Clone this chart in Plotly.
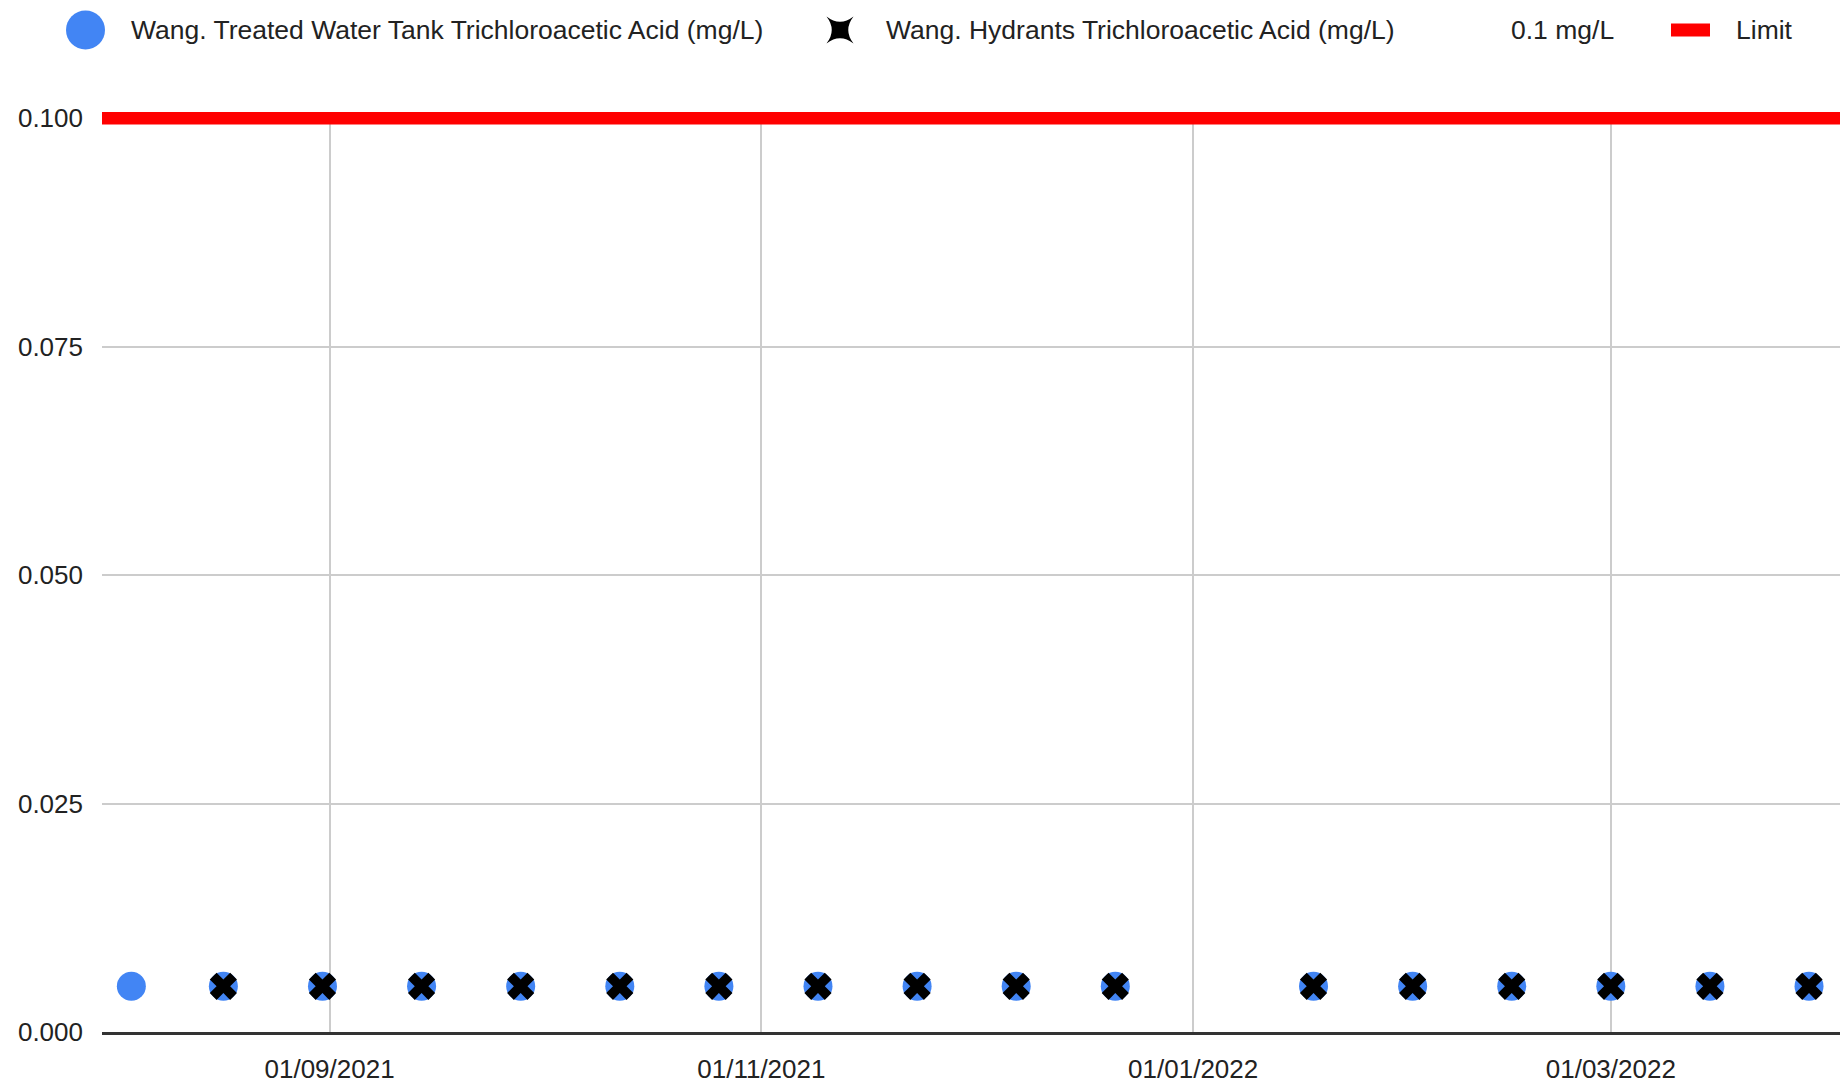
import plotly.graph_objects as go

# Sampling dates (tank) and measured trichloroacetic acid, mg/L
tank_dates = [
    "2021-08-04", "2021-08-17", "2021-08-31", "2021-09-14", "2021-09-28",
    "2021-10-12", "2021-10-26", "2021-11-09", "2021-11-23", "2021-12-07",
    "2021-12-21", "2022-01-18", "2022-02-01", "2022-02-15", "2022-03-01",
    "2022-03-15", "2022-03-29",
]
tank_values = [0.005] * 17

# Hydrant samples (no sample on the first tank date)
hydrant_dates = tank_dates[1:]
hydrant_values = [0.005] * 16

# Regulatory limit line spanning the shown period
limit_dates = ["2021-07-30 20:30", "2022-04-02 09:00"]
limit_values = [0.1, 0.1]

y_ticks = [0.0, 0.025, 0.05, 0.075, 0.1]

legend_labels = [
    "Wang. Treated Water Tank Trichloroacetic Acid (mg/L)",
    "Wang. Hydrants Trichloroacetic Acid (mg/L)",
    "0.1 mg/L",
    "Limit",
]

FONT = "Liberation Sans, Arial, sans-serif"
BLUE = "#4285F4"
RED = "#FF0000"
TEXT = "#222222"

W, H = 1840, 1087
ML, MR, MT, MB = 102, 0, 112, 55

fig = go.Figure()

fig.add_trace(go.Scatter(
    x=limit_dates, y=limit_values, mode="lines",
    line=dict(color=RED, width=12.5), name=legend_labels[3],
    showlegend=False, hoverinfo="skip",
))
fig.add_trace(go.Scatter(
    x=tank_dates, y=tank_values, mode="markers",
    marker=dict(symbol="circle", size=29, color=BLUE),
    name=legend_labels[0], showlegend=False, cliponaxis=False,
))
fig.add_trace(go.Scatter(
    x=hydrant_dates, y=hydrant_values, mode="markers",
    marker=dict(symbol="x", size=24, color="black"),
    name=legend_labels[1], showlegend=False, cliponaxis=False,
))

# --- custom legend row above the plot (pixel positions converted to paper) ---
pw = W - ML - MR
ph = H - MT - MB


def px_x(px):
    return (px - ML) / pw


def px_y(py):
    return (H - MB - py) / ph


leg_y = 30
# four-pointed star with concave sides, tips on the diagonals
star = ("M-13.5,-13.5 Q-3,0 -13.5,13.5 Q0,3 13.5,13.5 "
        "Q3,0 13.5,-13.5 Q0,-3 -13.5,-13.5 Z")
shapes = [
    dict(type="circle", xref="paper", yref="paper",
         xsizemode="pixel", ysizemode="pixel",
         xanchor=px_x(85.5), yanchor=px_y(leg_y),
         x0=-19.5, x1=19.5, y0=-19.5, y1=19.5,
         fillcolor=BLUE, line=dict(width=0)),
    dict(type="path", xref="paper", yref="paper",
         xsizemode="pixel", ysizemode="pixel",
         xanchor=px_x(840), yanchor=px_y(leg_y),
         path=star, fillcolor="black", line=dict(width=0)),
    dict(type="rect", xref="paper", yref="paper",
         xsizemode="pixel", ysizemode="pixel",
         xanchor=px_x(1690.5), yanchor=px_y(leg_y),
         x0=-19.5, x1=19.5, y0=-6.5, y1=6.5,
         fillcolor=RED, line=dict(width=0)),
]

annotations = []
for label, left in zip(legend_labels, [129, 884, 1509, 1734]):
    annotations.append(dict(
        text=label, xref="paper", yref="paper",
        x=px_x(left), y=px_y(leg_y), xanchor="left", yanchor="middle",
        showarrow=False, font=dict(family=FONT, size=26.5, color=TEXT),
    ))

fig.update_layout(
    template="none",
    width=W, height=H,
    margin=dict(l=ML, r=MR, t=MT, b=MB, pad=0),
    paper_bgcolor="white", plot_bgcolor="white",
    font=dict(family=FONT, size=26, color=TEXT),
    showlegend=False,
    shapes=shapes,
    annotations=annotations,
    xaxis=dict(
        type="date",
        range=limit_dates,
        dtick="M2", tick0="2021-01-01",
        tickformat="%d/%m/%Y",
        showgrid=True, gridcolor="#cccccc", gridwidth=2,
        showline=True, linecolor="#333333", linewidth=3,
        zeroline=False, ticks="", automargin=False,
        ticklabelstandoff=12,
        tickfont=dict(family=FONT, size=26, color=TEXT),
    ),
    yaxis=dict(
        range=[0, 0.10068],
        tickvals=y_ticks, tickformat=".3f",
        showgrid=True, gridcolor="#cccccc", gridwidth=2,
        zeroline=False, showline=False, ticks="", automargin=False,
        ticklabelstandoff=18,
        tickfont=dict(family=FONT, size=26, color=TEXT),
    ),
)

fig.write_html("out.html")
